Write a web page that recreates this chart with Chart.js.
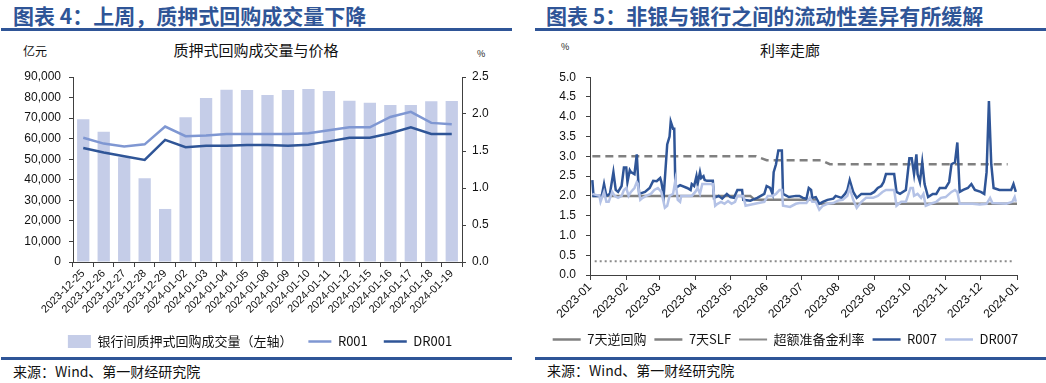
<!DOCTYPE html>
<html><head><meta charset="utf-8">
<script src="https://cdn.jsdelivr.net/npm/chart.js@4.4.0/dist/chart.umd.min.js"></script>
<style>
body{margin:0;width:1046px;height:383px;background:#fff;position:relative;overflow:hidden;font-family:"Noto Sans CJK SC",sans-serif;color:#111;}
.hdr{position:absolute;top:1px;font-size:21px;font-weight:bold;color:#2f5597;line-height:28px;white-space:nowrap;}
.rule{position:absolute;background:#2f5597;}
.t{position:absolute;white-space:nowrap;line-height:1;}
canvas{position:absolute;}
</style></head><body>
<div class="hdr" style="left:13px;">图表 4：上周，质押式回购成交量下降</div>
<div class="rule" style="left:1px;top:28px;width:511px;height:3px;"></div>
<div class="hdr" style="left:546px;">图表 5：非银与银行之间的流动性差异有所缓解</div>
<div class="rule" style="left:535px;top:28px;width:511px;height:3px;"></div>

<div class="t" style="left:23px;top:45px;font-size:12px;">亿元</div>
<div class="t" style="left:168px;top:42px;font-size:15px;width:176px;text-align:center;">质押式回购成交量与价格</div>
<div class="t" style="left:477px;top:49px;font-size:9px;">%</div>
<div class="t" style="left:561px;top:42px;font-size:9px;">%</div>
<div class="t" style="left:758px;top:42px;font-size:15px;width:64px;text-align:center;">利率走廊</div>

<canvas id="c1" width="520" height="298" style="left:0;top:60px;"></canvas>
<canvas id="c2" width="521" height="296" style="left:525px;top:60px;"></canvas>

<div class="rule" style="left:1px;top:357px;width:511px;height:2.5px;"></div>
<div class="rule" style="left:535px;top:357px;width:511px;height:2.5px;"></div>
<div class="t" style="left:13px;top:364px;font-size:14px;">来源：Wind、第一财经研究院</div>
<div class="t" style="left:547px;top:363px;font-size:14px;">来源：Wind、第一财经研究院</div>

<script>
// ---------- Left chart data ----------
const categories = ['2023-12-25','2023-12-26','2023-12-27','2023-12-28','2023-12-29','2024-01-02','2024-01-03','2024-01-04','2024-01-05','2024-01-08','2024-01-09','2024-01-10','2024-01-11','2024-01-12','2024-01-15','2024-01-16','2024-01-17','2024-01-18','2024-01-19'];
const volume = [69500,63400,51000,40700,25800,70400,79800,83800,83700,81200,83700,84200,83200,78500,77500,76400,76400,78200,78300];
const r001 = [1.68,1.60,1.56,1.59,1.83,1.70,1.71,1.73,1.73,1.73,1.73,1.74,1.78,1.82,1.82,1.96,2.03,1.88,1.86];
const dr001 = [1.54,1.48,1.43,1.38,1.65,1.55,1.57,1.57,1.58,1.58,1.57,1.585,1.63,1.68,1.68,1.74,1.82,1.73,1.73];

// ---------- Right chart data ----------
const monthTicks = ['2023-01','2023-02','2023-03','2023-04','2023-05','2023-06','2023-07','2023-08','2023-09','2023-10','2023-11','2023-12','2024-01'];
const r007Dates = ['2023-01-03','2023-01-04','2023-01-11','2023-01-13','2023-01-15','2023-01-18','2023-01-21','2023-01-23','2023-01-25','2023-01-28','2023-01-30','2023-02-01','2023-02-02','2023-02-04','2023-02-05','2023-02-08','2023-02-10','2023-02-11','2023-02-12','2023-02-17','2023-02-21','2023-02-24','2023-02-27','2023-03-02','2023-03-03','2023-03-05','2023-03-08','2023-03-10','2023-03-11','2023-03-13','2023-03-14','2023-03-15','2023-03-19','2023-03-25','2023-03-28','2023-03-29','2023-03-31','2023-04-02','2023-04-03','2023-04-05','2023-04-06','2023-04-08','2023-04-09','2023-04-11','2023-04-16','2023-04-17','2023-04-21','2023-04-24','2023-04-28','2023-05-01','2023-05-04','2023-05-07','2023-05-11','2023-05-12','2023-05-18','2023-05-24','2023-05-27','2023-05-30','2023-06-01','2023-06-04','2023-06-06','2023-06-07','2023-06-09','2023-06-11','2023-06-14','2023-06-15','2023-06-20','2023-06-26','2023-06-29','2023-07-02','2023-07-05','2023-07-07','2023-07-09','2023-07-10','2023-07-13','2023-07-16','2023-07-19','2023-07-23','2023-07-28','2023-07-30','2023-08-04','2023-08-07','2023-08-09','2023-08-11','2023-08-14','2023-08-17','2023-08-21','2023-08-29','2023-09-01','2023-09-04','2023-09-07','2023-09-09','2023-09-11','2023-09-18','2023-09-20','2023-09-23','2023-09-28','2023-10-01','2023-10-03','2023-10-05','2023-10-07','2023-10-08','2023-10-10','2023-10-12','2023-10-14','2023-10-17','2023-10-21','2023-10-24','2023-10-27','2023-11-01','2023-11-04','2023-11-06','2023-11-09','2023-11-11','2023-11-13','2023-11-16','2023-11-20','2023-11-23','2023-11-26','2023-12-01','2023-12-04','2023-12-06','2023-12-08','2023-12-10','2023-12-12','2023-12-17','2023-12-27','2023-12-29','2023-12-31'];
const r007 = [2.40,2.00,2.00,2.30,2.00,2.05,2.60,2.15,2.10,2.25,2.72,2.72,2.35,2.65,2.60,2.55,3.05,2.50,2.05,2.10,2.20,2.38,2.37,2.45,2.35,2.00,3.30,3.50,3.88,3.70,3.70,2.20,2.27,2.20,2.15,2.30,2.25,2.50,2.30,2.60,2.45,2.50,2.40,2.38,2.38,1.95,2.00,1.93,2.05,1.97,1.95,2.15,2.15,1.90,1.88,1.95,2.00,2.05,2.25,2.20,2.05,2.60,2.80,3.15,3.15,2.05,1.97,2.00,2.00,1.95,1.93,2.20,2.15,1.95,1.97,1.80,1.85,1.90,1.93,2.00,1.95,2.05,2.15,2.40,2.10,1.95,2.05,2.05,2.10,2.20,2.25,2.35,2.55,2.55,2.10,2.05,2.15,2.95,2.95,2.55,3.05,2.55,2.35,2.85,2.30,1.97,2.05,2.05,2.20,2.20,2.35,2.80,2.85,3.35,2.10,2.15,2.20,2.30,2.15,2.10,2.05,2.60,4.40,2.80,2.20,2.15,2.15,2.30,2.10];
const dr007Dates = ['2023-01-03','2023-01-09','2023-01-10','2023-01-13','2023-01-15','2023-01-17','2023-01-20','2023-01-22','2023-01-25','2023-01-28','2023-01-30','2023-02-01','2023-02-03','2023-02-05','2023-02-08','2023-02-10','2023-02-11','2023-02-13','2023-02-15','2023-02-18','2023-02-22','2023-02-25','2023-02-28','2023-03-03','2023-03-06','2023-03-08','2023-03-10','2023-03-13','2023-03-15','2023-03-17','2023-03-19','2023-03-20','2023-03-29','2023-04-01','2023-04-03','2023-04-05','2023-04-07','2023-04-16','2023-04-18','2023-04-20','2023-04-23','2023-04-26','2023-04-29','2023-05-02','2023-05-05','2023-05-07','2023-05-12','2023-05-14','2023-05-19','2023-05-25','2023-05-30','2023-06-02','2023-06-06','2023-06-09','2023-06-12','2023-06-14','2023-06-15','2023-06-21','2023-06-26','2023-06-29','2023-07-05','2023-07-08','2023-07-10','2023-07-13','2023-07-16','2023-07-19','2023-07-23','2023-07-28','2023-08-01','2023-08-05','2023-08-09','2023-08-11','2023-08-14','2023-08-17','2023-08-21','2023-08-25','2023-08-31','2023-09-04','2023-09-08','2023-09-11','2023-09-18','2023-09-20','2023-09-24','2023-09-28','2023-10-02','2023-10-04','2023-10-05','2023-10-08','2023-10-11','2023-10-13','2023-10-15','2023-10-19','2023-10-24','2023-10-28','2023-11-01','2023-11-06','2023-11-09','2023-11-11','2023-11-13','2023-11-24','2023-11-30','2023-12-06','2023-12-09','2023-12-11','2023-12-23','2023-12-28','2023-12-30','2023-12-31'];
const dr007 = [2.05,2.00,1.85,2.10,1.85,1.85,2.10,2.00,1.95,2.00,2.15,2.20,2.00,2.10,2.20,2.35,2.30,1.90,1.95,2.00,2.05,2.15,2.20,2.10,1.70,1.75,2.00,2.05,2.40,1.90,1.85,2.00,2.00,2.10,2.20,2.05,2.30,2.30,1.75,1.80,1.85,1.80,1.87,1.80,1.85,2.00,2.00,1.75,1.78,1.82,1.85,2.00,2.00,2.05,2.15,2.15,1.75,1.72,1.80,1.82,1.82,1.95,1.85,1.85,1.65,1.75,1.80,1.82,1.88,1.90,2.00,2.20,1.90,1.70,1.85,1.95,1.95,2.00,2.10,2.15,2.15,1.75,1.85,1.85,2.20,2.20,2.00,2.05,1.95,2.05,1.75,1.80,1.85,1.95,1.97,2.10,2.15,2.10,1.80,1.80,1.78,1.80,1.95,1.82,1.80,1.85,1.97,1.85];
const revRepoDates = ['2023-01-03','2023-05-18','2023-05-22','2023-07-12','2023-07-16','2024-01-01'];
const revRepo = [2.0,2.0,1.9,1.9,1.8,1.8];
const slfDates = ['2023-01-03','2023-05-23','2023-06-01','2023-07-18','2023-07-25','2023-12-24'];
const slf = [3.0,3.0,2.9,2.9,2.8,2.8];
const excessDates = ['2023-01-05','2023-12-28'];
const excess = [0.35,0.35];

// ---------- helpers ----------
const FONT = '"Noto Sans CJK SC", sans-serif';
const NUMFONT = '"Liberation Sans", Arial, sans-serif';
const AX = '#404040';
const day0 = Date.parse('2023-01-01');
const dayOf = s => (Date.parse(s) - day0) / 86400000;
const pts = (dates, vals) => dates.map((d, i) => ({x: dayOf(d), y: vals[i]}));
const byIndex = (a, b) => a.datasetIndex - b.datasetIndex;
Chart.defaults.font.family = FONT;
Chart.defaults.color = '#111';
Chart.defaults.animation = false;

// ---------- Left chart ----------
new Chart(document.getElementById('c1'), {
  data: {
    labels: categories,
    datasets: [
      {type:'bar', label:'银行间质押式回购成交量（左轴）', data: volume, backgroundColor:'#c5cde8', borderWidth:0,
       barPercentage:0.6, categoryPercentage:1.0, yAxisID:'y', order:2, pointStyle:'rect'},
      {type:'line', label:'R001', data: r001, borderColor:'#7f97d2', backgroundColor:'#7f97d2', borderWidth:2.5,
       pointRadius:0, yAxisID:'y1', order:1, pointStyle:'line', tension:0},
      {type:'line', label:'DR001', data: dr001, borderColor:'#2f5597', backgroundColor:'#2f5597', borderWidth:2.5,
       pointRadius:0, yAxisID:'y1', order:0, pointStyle:'line', tension:0}
    ]
  },
  options: {
    responsive:false,
    layout:{padding:{top:17,left:0,right:0,bottom:0}},
    plugins:{
      legend:{position:'bottom', labels:{usePointStyle:true, pointStyleWidth:23, padding:16, sort:byIndex, font:{size:13, family:FONT}, color:'#111'}},
      tooltip:{enabled:false}
    },
    scales:{
      x:{type:'category', offset:true,
         grid:{display:true, drawOnChartArea:false, tickLength:5, color:AX, offset:true},
         border:{display:true, color:AX, width:1},
         ticks:{autoSkip:false, minRotation:45, maxRotation:45, padding:0, font:{size:11, family:NUMFONT}, color:'#111'},
         afterFit: s => { s.height = 57; }},
      y:{position:'left', min:0, max:90000,
         grid:{display:true, drawOnChartArea:false, tickLength:4, color:AX},
         border:{display:true, color:AX, width:1},
         ticks:{stepSize:10000, padding:8, font:{size:12, family:NUMFONT}, color:'#111',
                callback: v => v.toLocaleString('en-US')},
         afterFit: s => { s.width = 73; }},
      y1:{position:'right', min:0, max:2.5,
         grid:{display:true, drawOnChartArea:false, tickLength:4, color:AX},
         border:{display:true, color:AX, width:1},
         ticks:{stepSize:0.5, padding:6, font:{size:12, family:NUMFONT}, color:'#111',
                callback: v => Number(v).toFixed(1)},
         afterFit: s => { s.width = 58; }}
    }
  }
});

// ---------- Right chart ----------
new Chart(document.getElementById('c2'), {
  type:'line',
  data: {
    datasets: [
      {label:'7天逆回购', data: pts(revRepoDates, revRepo), borderColor:'#808080', backgroundColor:'#808080', borderWidth:2.5, pointRadius:0, order:5, pointStyle:'line'},
      {label:'7天SLF', data: pts(slfDates, slf), borderColor:'#808080', backgroundColor:'#808080', borderWidth:2.5, borderDash:[8,5], pointRadius:0, order:4, pointStyle:'line'},
      {label:'超额准备金利率', data: pts(excessDates, excess), borderColor:'#8a8a8a', backgroundColor:'#8a8a8a', borderWidth:2, borderDash:[2,3], pointRadius:0, order:3, pointStyle:'line'},
      {label:'R007', data: pts(r007Dates, r007), borderColor:'#2f5597', backgroundColor:'#2f5597', borderWidth:2.5, pointRadius:0, order:2, pointStyle:'line'},
      {label:'DR007', data: pts(dr007Dates, dr007), borderColor:'#b4c2e6', backgroundColor:'#b4c2e6', borderWidth:2.5, pointRadius:0, order:1, pointStyle:'line'}
    ]
  },
  options: {
    responsive:false,
    layout:{padding:{top:12,left:0,right:0,bottom:0}},
    plugins:{
      legend:{position:'bottom', labels:{usePointStyle:true, pointStyleWidth:28, padding:8, sort:byIndex, font:{size:13, family:FONT}, color:'#111'}},
      tooltip:{enabled:false}
    },
    scales:{
      x:{type:'linear', min:0, max:365,
         afterBuildTicks: s => { s.ticks = monthTicks.map(m => ({value: dayOf(m + '-01')})); },
         grid:{display:true, drawOnChartArea:false, tickLength:5, color:AX},
         border:{display:true, color:AX, width:1},
         ticks:{autoSkip:false, minRotation:45, maxRotation:45, padding:0, font:{size:12, family:NUMFONT}, color:'#111',
                callback: (v, i) => monthTicks[i]},
         afterFit: s => { s.height = 50; }},
      y:{position:'left', min:0, max:5,
         grid:{display:true, drawOnChartArea:false, tickLength:4, color:AX},
         border:{display:true, color:AX, width:1},
         ticks:{stepSize:0.5, padding:10, font:{size:12, family:NUMFONT}, color:'#111',
                callback: v => Number(v).toFixed(1)},
         afterFit: s => { s.width = 65; }},
      ySpace:{position:'right', min:0, max:1,
         grid:{display:false}, border:{display:false}, ticks:{display:false},
         afterFit: s => { s.width = 29; }}
    }
  }
});
</script>
</body></html>
